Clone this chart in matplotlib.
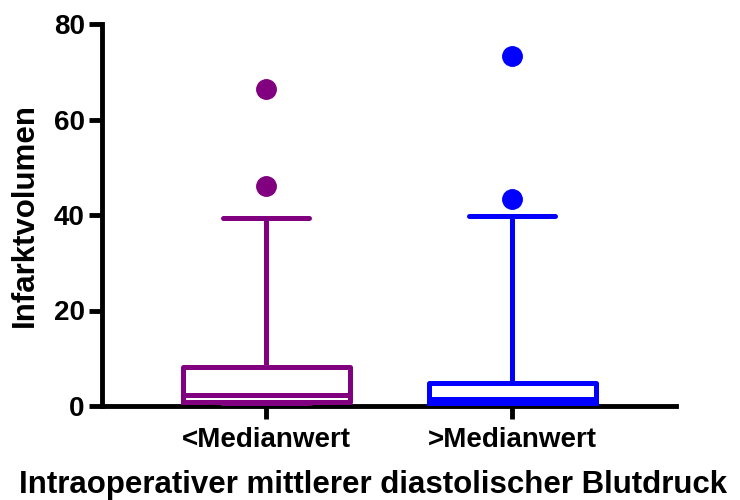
import matplotlib
matplotlib.use('Agg')
import matplotlib.pyplot as plt

plt.rcParams['font.family'] = ['Liberation Sans', 'DejaVu Sans']
plt.rcParams['font.weight'] = 'bold'

groups = ['<Medianwert', '>Medianwert']
colors = ['#800080', '#0000FF']
whislo = [0.0, 0.0]
q1 = [0.9, 0.4]
med = [2.3, 1.5]
q3 = [8.2, 4.8]
whishi = [39.3, 39.8]
fliers = [[46.0, 66.4], [43.3, 73.3]]

stats = []
for i in range(len(groups)):
    stats.append(dict(label=groups[i], whislo=whislo[i], q1=q1[i], med=med[i],
                      q3=q3[i], whishi=whishi[i], fliers=fliers[i]))

fig = plt.figure(figsize=(7.4, 5), dpi=100)
ax = fig.add_axes([0.138, 0.188, 0.776, 0.764])

for i, s in enumerate(stats):
    c = colors[i]
    ax.bxp([s], positions=[i + 1], widths=0.68, capwidths=0.35,
           boxprops=dict(color=c, lw=3.6),
           medianprops=dict(color=c, lw=3.6),
           whiskerprops=dict(color=c, lw=3.6),
           capprops=dict(color=c, lw=3.6, solid_capstyle='round'),
           flierprops=dict(marker='o', markerfacecolor=c, markeredgecolor=c, markersize=14))

ax.set_xlim(1 / 3, 8 / 3)
ax.set_ylim(0, 80)
ax.set_yticks([0, 20, 40, 60, 80])
ax.set_xticks([1, 2])
ax.set_xticklabels(groups, fontsize=20, fontweight='bold')
ax.tick_params(axis='y', labelsize=20, width=3.5, length=9.5, pad=3)
ax.tick_params(axis='x', width=3.5, length=9, pad=6)
for lab in ax.get_yticklabels():
    lab.set_fontweight('bold')
ax.spines['top'].set_visible(False)
ax.spines['right'].set_visible(False)
ax.spines['left'].set_linewidth(3.5)
ax.spines['bottom'].set_linewidth(3.5)
for sp in ax.spines.values():
    sp.set_zorder(0)
ax.set_ylabel('Infarktvolumen', fontsize=22.5, fontweight='bold', labelpad=10)
ax.set_xlabel('Intraoperativer mittlerer diastolischer Blutdruck', fontsize=22.5,
              fontweight='bold', labelpad=12)
ax.xaxis.label.set_x(0.472)

plt.savefig('out.png')
